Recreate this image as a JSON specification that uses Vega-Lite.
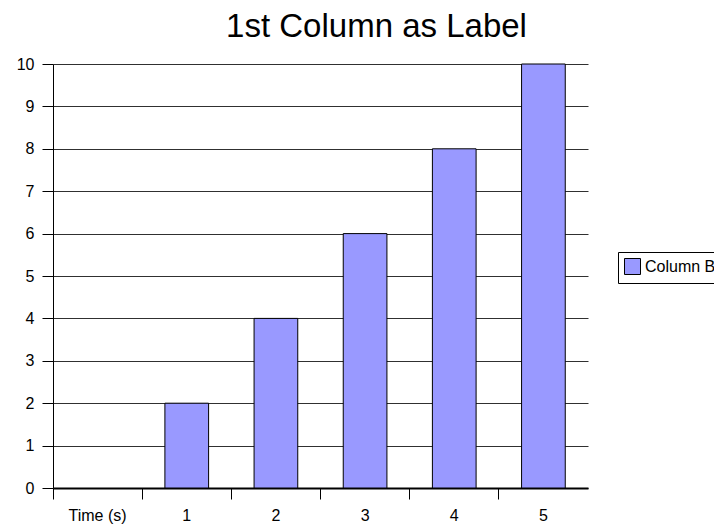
{
  "$schema": "https://vega.github.io/schema/vega-lite/v6.json",
  "width": 535,
  "height": 424,
  "autosize": "none",
  "padding": {"left": 53, "top": 64, "right": 126, "bottom": 41},
  "background": "white",
  "title": {
    "text": "1st Column as Label",
    "font": "Liberation Sans",
    "fontSize": 33,
    "fontWeight": "normal",
    "color": "black",
    "anchor": "middle",
    "frame": "group",
    "dx": 56,
    "baseline": "alphabetic",
    "offset": -14
  },
  "data": {
    "values": [
      {"label": "Time (s)", "value": null, "series": "Column B"},
      {"label": "1", "value": 2, "series": "Column B"},
      {"label": "2", "value": 4, "series": "Column B"},
      {"label": "3", "value": 6, "series": "Column B"},
      {"label": "4", "value": 8, "series": "Column B"},
      {"label": "5", "value": 10, "series": "Column B"}
    ]
  },
  "mark": {"type": "bar", "width": {"band": 0.49}, "stroke": "black", "strokeWidth": 1},
  "encoding": {
    "x": {
      "field": "label",
      "type": "nominal",
      "sort": null,
      "scale": {"domain": ["Time (s)", "1", "2", "3", "4", "5"], "paddingInner": 0, "paddingOuter": 0},
      "axis": {
        "title": null,
        "labelAngle": 0,
        "bandPosition": 0,
        "grid": false,
        "domainColor": "black",
        "domainWidth": 2,
        "tickColor": "black",
        "tickSize": 11,
        "tickWidth": 1,
        "labelFont": "Liberation Sans",
        "labelFontSize": 16,
        "labelColor": "black",
        "labelPadding": 8
      }
    },
    "y": {
      "field": "value",
      "type": "quantitative",
      "scale": {"domain": [0, 10], "nice": false},
      "axis": {
        "title": null,
        "values": [0, 1, 2, 3, 4, 5, 6, 7, 8, 9, 10],
        "grid": true,
        "gridColor": "#303030",
        "gridWidth": 1,
        "domainColor": "black",
        "domainWidth": 1,
        "tickColor": "black",
        "tickSize": 11,
        "labelFont": "Liberation Sans",
        "labelFontSize": 16,
        "labelColor": "black",
        "labelPadding": 8
      }
    },
    "color": {
      "field": "series",
      "type": "nominal",
      "scale": {"range": ["#9999ff"]},
      "legend": {
        "title": null,
        "orient": "none",
        "legendX": 565,
        "legendY": 188,
        "strokeColor": "black",
        "fillColor": "white",
        "padding": 6,
        "symbolType": "square",
        "symbolSize": 256,
        "symbolStrokeColor": "black",
        "symbolStrokeWidth": 1,
        "symbolOpacity": 1,
        "labelFont": "Liberation Sans",
        "labelFontSize": 16,
        "labelColor": "black"
      }
    }
  },
  "config": {"view": {"stroke": null}}
}
